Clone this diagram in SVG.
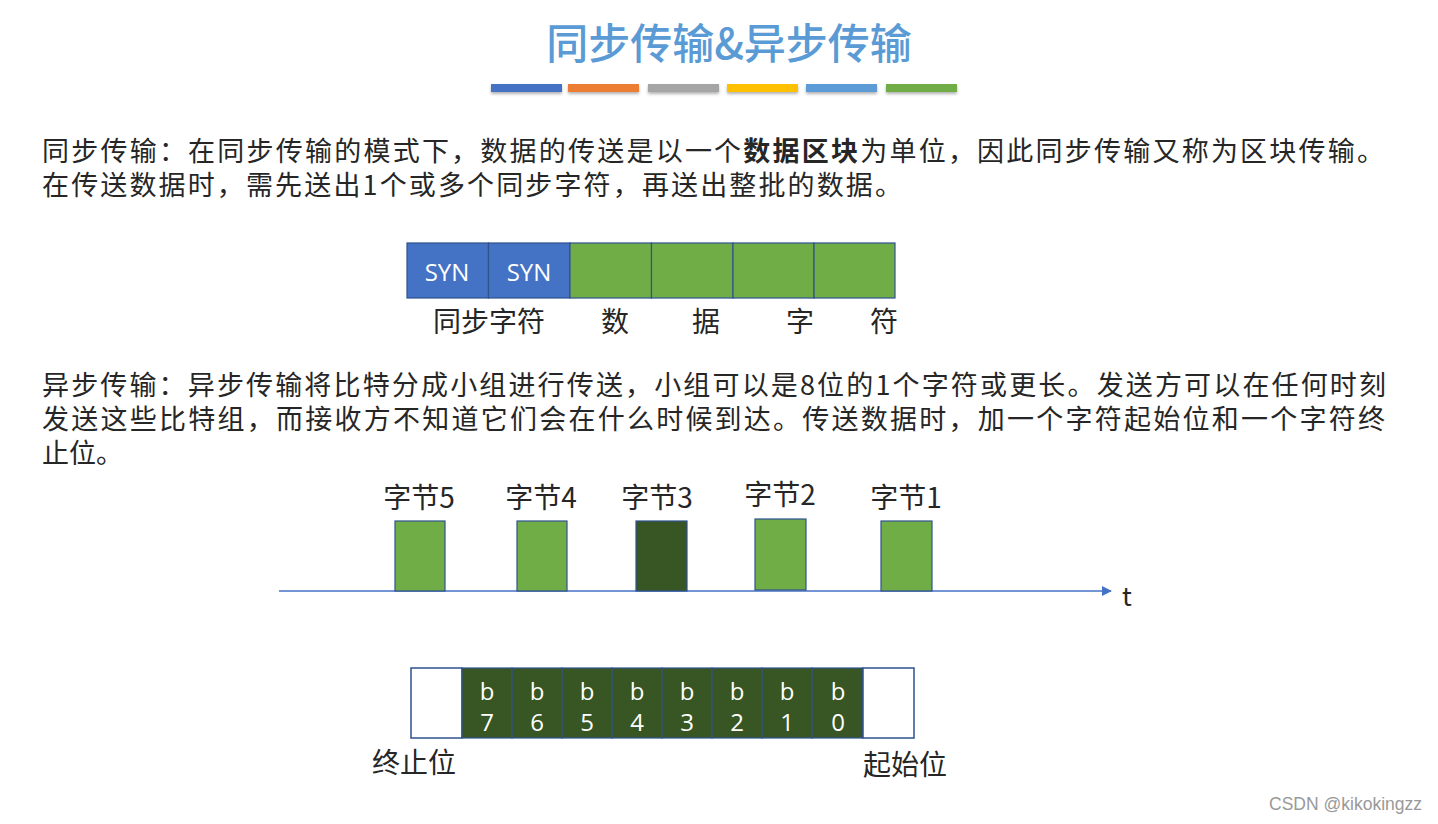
<svg xmlns="http://www.w3.org/2000/svg" width="1438" height="824" viewBox="0 0 1438 824">
<defs>
<style>
.cjk{font-family:"Noto Sans CJK SC","Liberation Sans",sans-serif;}
.para{font-size:27px;fill:#262626;}
.title{font-size:42px;fill:#5B9BD5;font-weight:500;text-anchor:middle;}
.lbl{font-size:28px;fill:#262626;text-anchor:middle;}
.blbl{font-size:28px;fill:#262626;text-anchor:middle;}
.syn{font-family:"Open Sans","Liberation Sans",sans-serif;font-size:24px;fill:#fff;text-anchor:middle;}
.bit{font-family:"Open Sans","Liberation Sans",sans-serif;font-size:24px;fill:#fff;text-anchor:middle;}
.blue{fill:#4472C4;stroke:#2F528F;stroke-width:1.2;}
.green{fill:#70AD47;stroke:#2F528F;stroke-width:1.2;}
.dark{fill:#375623;stroke:#2F528F;stroke-width:1.2;}
.white{fill:#fff;stroke:#2F528F;stroke-width:1.5;}
.bar{filter:url(#sh);}
</style>
<filter id="sh" x="-10%" y="-50%" width="120%" height="250%">
<feDropShadow dx="0" dy="2" stdDeviation="1.5" flood-color="#000" flood-opacity="0.3"/>
</filter>
<marker id="arr" viewBox="0 0 10 10" refX="9" refY="5" markerWidth="10" markerHeight="10" markerUnits="userSpaceOnUse" orient="auto">
<path d="M0,0 L10,5 L0,10 z" fill="#4472C4"/>
</marker>
</defs>
<rect width="1438" height="824" fill="#fff"/>

<g id="title">
<text class="cjk title" x="729" y="59">同步传输&amp;异步传输</text>
<rect class="bar" x="491" y="84" width="71" height="8" fill="#4472C4"/>
<rect class="bar" x="568" y="84" width="71" height="8" fill="#ED7D31"/>
<rect class="bar" x="648" y="84" width="71" height="8" fill="#A5A5A5"/>
<rect class="bar" x="727" y="84" width="71" height="8" fill="#FFC000"/>
<rect class="bar" x="806" y="84" width="71" height="8" fill="#5B9BD5"/>
<rect class="bar" x="886" y="84" width="71" height="8" fill="#70AD47"/>
</g>

<g id="sync-text">
<text class="cjk para"><tspan x="42" y="161" textLength="1342" lengthAdjust="spacing">同步传输：在同步传输的模式下，数据的传送是以一个<tspan font-weight="bold">数据区块</tspan>为单位，因此同步传输又称为区块传输。</tspan><tspan x="42" y="195" textLength="860" lengthAdjust="spacing">在传送数据时，需先送出1个或多个同步字符，再送出整批的数据。</tspan></text>
</g>

<g id="sync-frame">
<rect class="blue" x="407" y="243" width="81.5" height="55"/>
<rect class="blue" x="488.5" y="243" width="81.5" height="55"/>
<rect class="green" x="570" y="243" width="81.5" height="55"/>
<rect class="green" x="651.5" y="243" width="81.5" height="55"/>
<rect class="green" x="733" y="243" width="81" height="55"/>
<rect class="green" x="814" y="243" width="81" height="55"/>
<text class="syn" x="447" y="281">SYN</text>
<text class="syn" x="529" y="281">SYN</text>
<text class="cjk lbl" x="489" y="332">同步字符</text>
<text class="cjk lbl" x="615" y="332">数</text>
<text class="cjk lbl" x="706" y="332">据</text>
<text class="cjk lbl" x="800" y="332">字</text>
<text class="cjk lbl" x="884" y="332">符</text>
</g>

<g id="async-text">
<text class="cjk para"><tspan x="42" y="395" textLength="1344" lengthAdjust="spacing">异步传输：异步传输将比特分成小组进行传送，小组可以是8位的1个字符或更长。发送方可以在任何时刻</tspan><tspan x="42" y="429" textLength="1343" lengthAdjust="spacing">发送这些比特组，而接收方不知道它们会在什么时候到达。传送数据时，加一个字符起始位和一个字符终</tspan><tspan x="42" y="463">止位。</tspan></text>
</g>

<g id="connectors">
<line x1="279" y1="591" x2="1111" y2="591" stroke="#4472C4" stroke-width="1.3" marker-end="url(#arr)"/>
<text x="1127" y="606" font-family="Noto Sans CJK SC, Liberation Sans, sans-serif" font-size="26" fill="#262626" text-anchor="middle">t</text>
</g>

<g id="byte5">
<rect class="green" x="395" y="521" width="50" height="70"/>
<text class="cjk blbl" x="419" y="508">字节5</text>
</g>
<g id="byte4">
<rect class="green" x="517" y="521" width="50" height="70"/>
<text class="cjk blbl" x="541" y="508">字节4</text>
</g>
<g id="byte3">
<rect class="dark" x="636" y="521" width="51" height="70"/>
<text class="cjk blbl" x="657" y="508">字节3</text>
</g>
<g id="byte2">
<rect class="green" x="755" y="519" width="51" height="71"/>
<text class="cjk blbl" x="780" y="505">字节2</text>
</g>
<g id="byte1">
<rect class="green" x="881" y="521" width="51" height="70"/>
<text class="cjk blbl" x="906" y="508">字节1</text>
</g>

<g id="bit-frame">
<rect class="white" x="411" y="668" width="51" height="70"/>
<rect class="dark" x="462" y="668" width="50" height="70"/>
<rect class="dark" x="512" y="668" width="50" height="70"/>
<rect class="dark" x="562" y="668" width="50" height="70"/>
<rect class="dark" x="612" y="668" width="50" height="70"/>
<rect class="dark" x="662" y="668" width="50" height="70"/>
<rect class="dark" x="712" y="668" width="50" height="70"/>
<rect class="dark" x="762" y="668" width="50" height="70"/>
<rect class="dark" x="812" y="668" width="51" height="70"/>
<rect class="white" x="863" y="668" width="51" height="70"/>
<text class="bit" x="487" y="700">b</text><text class="bit" x="487" y="731">7</text>
<text class="bit" x="537" y="700">b</text><text class="bit" x="537" y="731">6</text>
<text class="bit" x="587" y="700">b</text><text class="bit" x="587" y="731">5</text>
<text class="bit" x="637" y="700">b</text><text class="bit" x="637" y="731">4</text>
<text class="bit" x="687" y="700">b</text><text class="bit" x="687" y="731">3</text>
<text class="bit" x="737" y="700">b</text><text class="bit" x="737" y="731">2</text>
<text class="bit" x="787" y="700">b</text><text class="bit" x="787" y="731">1</text>
<text class="bit" x="838" y="700">b</text><text class="bit" x="838" y="731">0</text>
<text class="cjk lbl" x="414" y="773" font-size="29">终止位</text>
<text class="cjk lbl" x="905" y="775" font-size="29">起始位</text>
</g>

<text x="1422" y="810" font-family="Liberation Sans, sans-serif" font-size="17.5" fill="#999" text-anchor="end">CSDN @kikokingzz</text>
</svg>
